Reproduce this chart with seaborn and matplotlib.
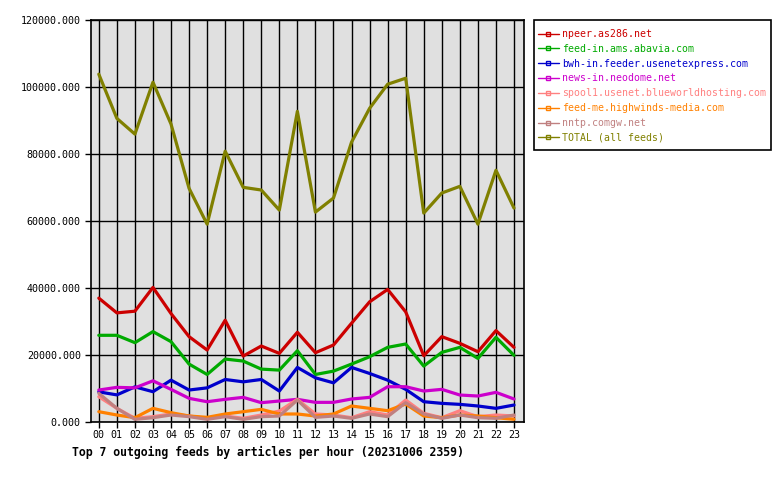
import matplotlib
matplotlib.use("Agg")
import matplotlib.pyplot as plt
from matplotlib.lines import Line2D
from matplotlib.patches import Rectangle
from matplotlib.ticker import FormatStrFormatter
import seaborn as sns
import pandas as pd

hours = ["00", "01", "02", "03", "04", "05", "06", "07", "08", "09", "10", "11",
         "12", "13", "14", "15", "16", "17", "18", "19", "20", "21", "22", "23"]

feeds = ["npeer.as286.net", "feed-in.ams.abavia.com", "bwh-in.feeder.usenetexpress.com",
         "news-in.neodome.net", "spool1.usenet.blueworldhosting.com",
         "feed-me.highwinds-media.com", "nntp.comgw.net", "TOTAL (all feeds)"]

npeer = [37000, 32600, 33100, 40200, 32400, 25500, 21500, 30400, 19700, 22700, 20500, 26800,
         20700, 23000, 29500, 35900, 39600, 32900, 19800, 25500, 23500, 21000, 27300, 22300]
abavia = [25900, 25900, 23700, 27000, 24000, 17300, 14200, 18800, 18200, 15800, 15500, 21300,
          14200, 15200, 17300, 19500, 22300, 23300, 16700, 20800, 22300, 19000, 25300, 19900]
usenetexpress = [9000, 8100, 10500, 9050, 12500, 9550, 10200, 12700, 12000, 12700, 9250, 16300,
                 13200, 11700, 16300, 14500, 12500, 9750, 6060, 5570, 5270, 4780, 4080, 5070]
neodome = [9550, 10350, 10200, 12300, 9750, 7070, 6060, 6770, 7360, 5770, 6270, 6770,
           5870, 5870, 6870, 7360, 10540, 10540, 9250, 9750, 8060, 7760, 8860, 6870]
blueworld = [7560, 4080, 1100, 1600, 2390, 1790, 1100, 1790, 1100, 2090, 3280, 6770,
             2390, 2090, 1290, 3080, 2090, 6570, 2590, 1290, 3380, 1600, 2090, 1790]
highwinds = [3080, 2090, 1290, 4080, 2790, 1790, 1390, 2390, 3080, 3780, 2390, 2390,
             1790, 2390, 4780, 4080, 3380, 5370, 1790, 1290, 2090, 1790, 1290, 800]
comgw = [8560, 4080, 800, 1290, 2090, 1600, 800, 1600, 800, 1600, 1790, 6570,
         1390, 1790, 1100, 2390, 1600, 5770, 2390, 1100, 2090, 1290, 1100, 2090]
total = [103900, 90700, 86000, 101500, 89000, 69800, 59100, 80900, 70100, 69300, 63300, 92800,
         62700, 66900, 83600, 93700, 100900, 102700, 62400, 68400, 70400, 59100, 75200, 63900]

title = "Top 7 outgoing feeds by articles per hour (20231006 2359)"

colors = ["#cc0000", "#00aa00", "#0000cc", "#cc00cc", "#ff8080", "#ff8000", "#c08080", "#808000"]

series = [npeer, abavia, usenetexpress, neodome, blueworld, highwinds, comgw, total]
rows = []
for name, vals in zip(feeds, series):
    for i, v in enumerate(vals):
        rows.append({"hour": i, "feed": name, "value": v})
df = pd.DataFrame(rows)

sns.set_theme(style="white")
plt.rcParams["font.family"] = ["DejaVu Sans Mono"]

W, H = 780, 480
fig = plt.figure(figsize=(7.8, 4.8), dpi=100)
ax = fig.add_axes([90.5 / W, 1 - 422 / H, (524.3 - 90.5) / W, (422 - 20.3) / H])
ax.set_facecolor("#e0e0e0")

sns.lineplot(data=df, x="hour", y="value", hue="feed", hue_order=feeds,
             palette=dict(zip(feeds, colors)), linewidth=2.3, legend=False, ax=ax,
             zorder=3)

ax.set_xlim(-0.46, 23.57)
ax.set_ylim(0, 120000)
ax.set_xticks(range(len(hours)))
ax.set_xticklabels(hours)
ax.set_yticks(range(0, 120001, 20000))
ax.yaxis.set_major_formatter(FormatStrFormatter("%.3f"))
ax.set_xlabel("")
ax.set_ylabel("")
ax.grid(True, color="black", linewidth=1.0, zorder=1)
ax.set_axisbelow(True)
for s in ax.spines.values():
    s.set_color("black")
    s.set_linewidth(1.2)
ax.tick_params(axis="both", which="major", length=4, width=1, color="black",
               labelsize=7.2, labelcolor="black", pad=3, direction="out",
               left=True, bottom=True)
ax.tick_params(axis="x", pad=2)

# legend frame drawn separately
fig.patches.append(Rectangle((534.3 / W, 1 - 150 / H), (770.7 - 534.3) / W, (150 - 20.3) / H,
                             transform=fig.transFigure, facecolor="white",
                             edgecolor="black", linewidth=1.2, zorder=0))

handles = [Line2D([0], [0], color=c, linewidth=1.0, marker="s", markersize=3,
                  markerfacecolor="none", markeredgecolor=c, markeredgewidth=1)
           for c in colors]
leg = fig.legend(handles, feeds, loc="upper left",
                 bbox_to_anchor=(537.5 / W, 1 - 29 / H),
                 bbox_transform=fig.transFigure,
                 fontsize=7.1, frameon=False, handlelength=2.2,
                 handletextpad=0.3, borderpad=0.0, labelspacing=0.49,
                 borderaxespad=0.0)
for t, c in zip(leg.get_texts(), colors):
    t.set_color(c)

fig.text(72 / W, 1 - 452 / H, title, ha="left", va="center",
         fontsize=8.3, fontweight="bold", color="black")

fig.savefig("out.png", dpi=100, facecolor="white")
